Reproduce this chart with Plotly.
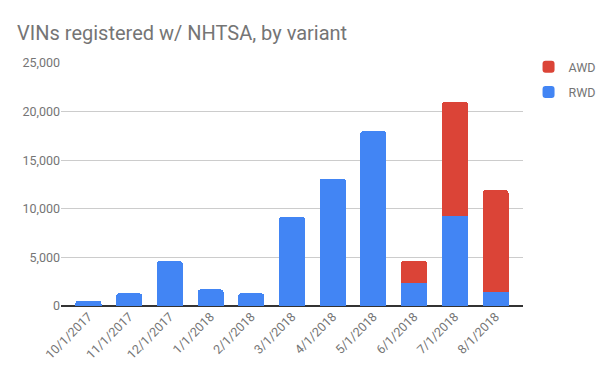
import plotly.graph_objects as go

categories = ["10/1/2017", "11/1/2017", "12/1/2017", "1/1/2018", "2/1/2018", "3/1/2018",
              "4/1/2018", "5/1/2018", "6/1/2018", "7/1/2018", "8/1/2018"]
rwd = [550, 1300, 4600, 1700, 1300, 9200, 13100, 18000, 2400, 9300, 1450]
awd = [0, 0, 0, 0, 0, 0, 0, 0, 2250, 11700, 10450]
y_ticks = [0, 5000, 10000, 15000, 20000, 25000]
y_tick_labels = ["0", "5,000", "10,000", "15,000", "20,000", "25,000"]

FONT = "Roboto, Arial, sans-serif"

fig = go.Figure()
fig.add_trace(go.Bar(x=categories, y=rwd, name="RWD", marker_color="#4285F4",
                     marker_line_width=0, legendgroup="rwd", legendrank=2))
fig.add_trace(go.Bar(x=categories, y=awd, name="AWD", marker_color="#DB4437",
                     marker_line_width=0, legendgroup="awd", legendrank=1))

fig.update_layout(
    width=610, height=377,
    barmode="stack", bargap=0.36, barcornerradius=3,
    paper_bgcolor="white", plot_bgcolor="white",
    margin=dict(l=61, r=87, t=63, b=71, autoexpand=False),
    title=dict(text="VINs registered w/ NHTSA, by variant", x=0.028, xanchor="left",
               y=0.912, yanchor="middle",
               font=dict(family=FONT, size=20, color="#757575")),
    font=dict(family=FONT, color="#757575"),
    legend=dict(x=1.012, xanchor="left", y=1.045, yanchor="top", traceorder="grouped",
                tracegroupgap=6, font=dict(family=FONT, size=12.5, color="#757575"),
                bgcolor="rgba(0,0,0,0)"),
    xaxis=dict(type="category", range=[-0.675, 10.675], tickangle=-45,
               showgrid=False, ticks="", showline=False, automargin=False,
               tickfont=dict(family=FONT, size=12.5, color="#757575")),
    yaxis=dict(range=[0, 25000], tickvals=y_ticks, ticktext=y_tick_labels,
               showgrid=True, gridcolor="#cccccc", gridwidth=1,
               zeroline=True, zerolinecolor="#333333", zerolinewidth=1.5,
               ticks="", ticklen=0, showline=False, automargin=False,
               tickfont=dict(family=FONT, size=12.5, color="#757575")),
)

fig.write_html("out.html", config={"displayModeBar": False},
               post_script="document.body.style.margin='0px';")
